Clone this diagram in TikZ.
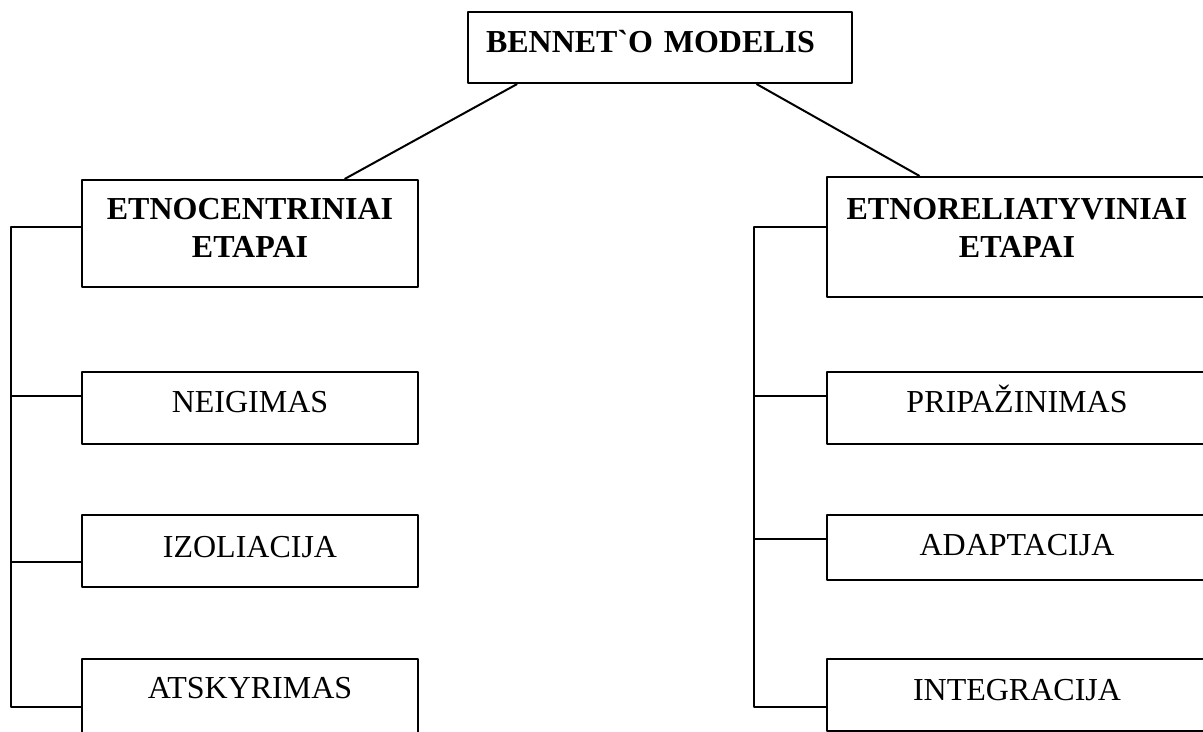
\documentclass[tikz,border=0pt]{standalone}
\usepackage{fontspec}
\setmainfont{Liberation Serif}
\usetikzlibrary{calc}
\begin{document}
\begin{tikzpicture}[x=0.5pt,y=-0.5pt,line width=1pt,line join=round,
    box/.style={draw,inner sep=0pt,text height=20pt,text depth=16pt,anchor=base,
        font=\fontsize{16}{19}\selectfont},
    head/.style={box,align=center,font=\fontsize{16}{19}\selectfont\bfseries},
    lbox/.style={minimum width=168pt},
    rbox/.style={minimum width=190pt}]
    \useasboundingbox (0,0) rectangle (1203,732);
    \def\xl{250} \def\xr{1017} \def\xsl{11} \def\xsr{754}
    % top
    \node[head,text width=174pt,align=left,inner xsep=9pt,text height=20.5pt,
        text depth=15pt,anchor=base west] (model) at (467,53) {BENNET\textasciigrave O MODELIS};
    % left column
    \node[head,lbox,text height=39pt,text depth=14.5pt] (lhead) at (\xl,258) {ETNOCENTRINIAI\\ETAPAI};
    \node[box,lbox] (lneg) at (\xl,412) {NEIGIMAS};
    \node[box,lbox,text height=21pt,text depth=15pt] (lizo) at (\xl,557) {IZOLIACIJA};
    \node[box,lbox,text height=19.5pt,text depth=21pt] (latsk) at (\xl,698) {ATSKYRIMAS};
    % right column
    \node[head,rbox,text height=40.5pt,text depth=19.5pt] (rhead) at (\xr,258) {ETNORELIATYVINIAI\\ETAPAI};
    \node[box,rbox] (rpri) at (\xr,412) {PRIPAŽINIMAS};
    \node[box,rbox,text height=20pt,text depth=12.5pt] (rada) at (\xr,555) {ADAPTACIJA};
    \node[box,rbox,text height=20.5pt,text depth=15.5pt] (rint) at (\xr,700) {INTEGRACIJA};
    % spines
    \coordinate (ls1) at (\xsl,227); \coordinate (ls2) at (\xsl,396);
    \coordinate (ls3) at (\xsl,562); \coordinate (ls4) at (\xsl,707);
    \coordinate (rs1) at (\xsr,227); \coordinate (rs2) at (\xsr,396);
    \coordinate (rs3) at (\xsr,539); \coordinate (rs4) at (\xsr,707);
    \draw ($(model.south west)!.13!(model.south east)$) -- ($(lhead.north west)!.78!(lhead.north east)$);
    \draw ($(model.south west)!.75!(model.south east)$) -- ($(rhead.north west)!.245!(rhead.north east)$);
    \draw (lhead.west |- ls1) -- (ls1) -- (ls4) -- (latsk.west |- ls4);
    \draw (ls2) -- (lneg.west |- ls2);
    \draw (ls3) -- (lizo.west |- ls3);
    \draw (rhead.west |- rs1) -- (rs1) -- (rs4) -- (rint.west |- rs4);
    \draw (rs2) -- (rpri.west |- rs2);
    \draw (rs3) -- (rada.west |- rs3);
\end{tikzpicture}
\end{document}
